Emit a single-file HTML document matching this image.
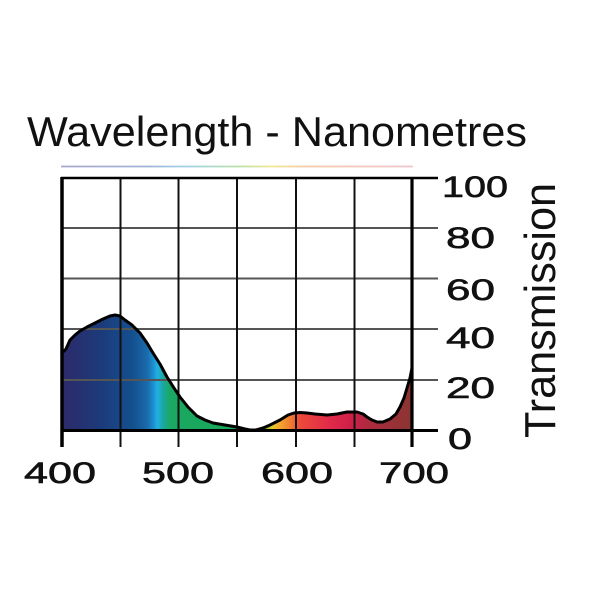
<!DOCTYPE html>
<html><head><meta charset="utf-8"><style>
html,body{margin:0;padding:0;background:#fff;}
svg{display:block;}
text{font-family:"Liberation Sans",Arial,sans-serif;fill:#111;}
</style></head><body>
<svg width="600" height="600" viewBox="0 0 600 600" xmlns="http://www.w3.org/2000/svg">
<defs>
<linearGradient id="spec" x1="62" y1="0" x2="412" y2="0" gradientUnits="userSpaceOnUse">
<stop offset="0" stop-color="#2e2a6a"/>
<stop offset="0.109" stop-color="#1c3a7a"/>
<stop offset="0.203" stop-color="#14508e"/>
<stop offset="0.245" stop-color="#1a6cae"/>
<stop offset="0.262" stop-color="#1c92d2"/>
<stop offset="0.272" stop-color="#20b0e6"/>
<stop offset="0.289" stop-color="#1aa8a0"/>
<stop offset="0.309" stop-color="#1aa862"/>
<stop offset="0.55" stop-color="#1aa855"/>
<stop offset="0.57" stop-color="#40a840"/>
<stop offset="0.585" stop-color="#90b828"/>
<stop offset="0.6" stop-color="#e0cc20"/>
<stop offset="0.615" stop-color="#f2b030"/>
<stop offset="0.65" stop-color="#f08030"/>
<stop offset="0.68" stop-color="#ec4a3a"/>
<stop offset="0.77" stop-color="#e0284a"/>
<stop offset="0.83" stop-color="#cc2048"/>
<stop offset="0.87" stop-color="#b02a40"/>
<stop offset="0.94" stop-color="#9a3038"/>
<stop offset="1" stop-color="#8a3530"/>
</linearGradient>
<linearGradient id="rb" x1="61" y1="0" x2="413" y2="0" gradientUnits="userSpaceOnUse">
<stop offset="0" stop-color="#a8a8cc"/>
<stop offset="0.25" stop-color="#a0b4d8"/>
<stop offset="0.35" stop-color="#a0d0e8"/>
<stop offset="0.5" stop-color="#b8e0a8"/>
<stop offset="0.6" stop-color="#f2e890"/>
<stop offset="0.7" stop-color="#f4c8a8"/>
<stop offset="1" stop-color="#f0c4cc"/>
</linearGradient>
</defs>

<text x="27" y="146" font-size="42" textLength="500" lengthAdjust="spacingAndGlyphs">Wavelength - Nanometres</text>
<line x1="61" y1="166.5" x2="413" y2="166.5" stroke="url(#rb)" stroke-width="1.8"/>

<path fill="url(#spec)" d="M62,430.5 L62,353 L66,349 L70,340 L75,335 L80,331 L87,327 L95,323 L103,319 L110,316 L115,315 L120,316 L125,320 L132,325 L140,333 L147,343 L153,353 L160,364 L167,377 L174,388 L180,397 L188,407 L197,416 L205,420 L213,423 L225,425 L237,427 L245,429 L250,430 L256,430 L263,428 L270,425 L280,420 L288,415 L294,413 L300,412.5 L307,413 L315,414 L327,415 L337,414 L347,412 L357,412 L363,414 L367,417 L372,420 L377,422 L383,422 L390,419 L396,414 L400,407 L404,398 L407,388 L410,378 L412,368 L412,430.5 Z"/>

<g stroke="#555" stroke-width="2">
<line x1="62" y1="228" x2="438" y2="228"/>
<line x1="62" y1="278.5" x2="438" y2="278.5"/>
<line x1="62" y1="329" x2="438" y2="329"/>
<line x1="62" y1="380" x2="438" y2="380"/>
</g>
<g stroke="#111" stroke-width="2">
<line x1="120.5" y1="178" x2="120.5" y2="447"/>
<line x1="178.5" y1="178" x2="178.5" y2="447"/>
<line x1="237" y1="178" x2="237" y2="447"/>
<line x1="296" y1="178" x2="296" y2="447"/>
<line x1="354.5" y1="178" x2="354.5" y2="447"/>
</g>
<g stroke="#000">
<line x1="61" y1="178" x2="438" y2="178" stroke-width="2.5"/>
<line x1="61" y1="430.5" x2="438" y2="430.5" stroke-width="3"/>
<line x1="62" y1="177" x2="62" y2="447" stroke-width="3.5"/>
<line x1="412" y1="177" x2="412" y2="447" stroke-width="3.2"/>
</g>

<polyline fill="none" stroke="#000" stroke-width="3" stroke-linejoin="round" stroke-linecap="round" points="62,353 66,349 70,340 75,335 80,331 87,327 95,323 103,319 110,316 115,315 120,316 125,320 132,325 140,333 147,343 153,353 160,364 167,377 174,388 180,397 188,407 197,416 205,420 213,423 225,425 237,427 245,429 250,430 256,430 263,428 270,425 280,420 288,415 294,413 300,412.5 307,413 315,414 327,415 337,414 347,412 357,412 363,414 367,417 372,420 377,422 383,422 390,419 396,414 400,407 404,398 407,388 410,378 412,368"/>

<g font-size="30" stroke="#111" stroke-width="0.6">
<text x="442" y="197" textLength="66" lengthAdjust="spacingAndGlyphs">100</text>
<text x="446" y="248" textLength="49" lengthAdjust="spacingAndGlyphs">80</text>
<text x="446" y="300" textLength="49" lengthAdjust="spacingAndGlyphs">60</text>
<text x="446" y="348" textLength="49" lengthAdjust="spacingAndGlyphs">40</text>
<text x="446" y="398" textLength="49" lengthAdjust="spacingAndGlyphs">20</text>
<text x="448" y="449" textLength="24" lengthAdjust="spacingAndGlyphs">0</text>
</g>

<g font-size="30" text-anchor="middle" stroke="#111" stroke-width="0.6">
<text x="60" y="483" textLength="72" lengthAdjust="spacingAndGlyphs">400</text>
<text x="178" y="483" textLength="72" lengthAdjust="spacingAndGlyphs">500</text>
<text x="297" y="483" textLength="72" lengthAdjust="spacingAndGlyphs">600</text>
<text x="414" y="483" textLength="70" lengthAdjust="spacingAndGlyphs">700</text>
</g>

<text transform="translate(555,438) rotate(-90)" font-size="44" textLength="255" lengthAdjust="spacingAndGlyphs">Transmission</text>
</svg>
</body></html>
